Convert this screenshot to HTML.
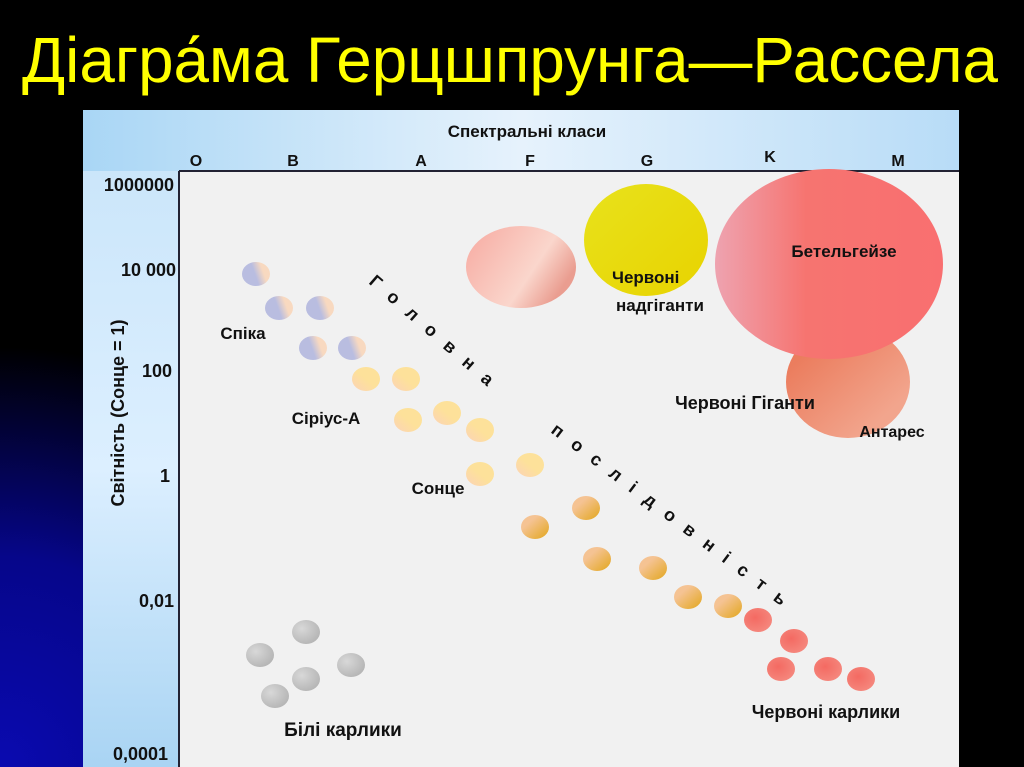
<!DOCTYPE html>
<html><head><meta charset="utf-8"><style>
html,body{margin:0;padding:0;background:#000;}
svg{display:block}
text{font-family:"Liberation Sans","DejaVu Sans",sans-serif;}
</style></head><body>
<svg width="1024" height="767" viewBox="0 0 1024 767" xmlns="http://www.w3.org/2000/svg">
<defs>
<radialGradient id="bg" gradientUnits="userSpaceOnUse" cx="0" cy="767" r="420">
<stop offset="0" stop-color="#0a0ab0"/><stop offset="0.5" stop-color="#06068a"/><stop offset="1" stop-color="#000"/></radialGradient>
<linearGradient id="hdr" x1="0" y1="0" x2="1" y2="0">
<stop offset="0" stop-color="#a9d6f5"/><stop offset="0.5" stop-color="#e6f2fc"/><stop offset="1" stop-color="#b8dcf7"/></linearGradient>
<linearGradient id="lcol" x1="0" y1="0" x2="0" y2="1">
<stop offset="0" stop-color="#cbe6fa"/><stop offset="0.5" stop-color="#dcefff"/><stop offset="1" stop-color="#a9d4f3"/></linearGradient>
<linearGradient id="blue" x1="0" y1="0.6" x2="1" y2="0.3"><stop offset="0.45" stop-color="#b9bde0"/><stop offset="0.75" stop-color="#f8d9c0"/></linearGradient>
<linearGradient id="yel" x1="0" y1="1" x2="1" y2="0"><stop offset="0" stop-color="#fcd3b8"/><stop offset="0.5" stop-color="#fde19a"/></linearGradient>
<linearGradient id="org" x1="0" y1="0" x2="1" y2="1"><stop offset="0.3" stop-color="#f5c393"/><stop offset="1" stop-color="#e2a61c"/></linearGradient>
<radialGradient id="red" cx="0.4" cy="0.4" r="0.7"><stop offset="0" stop-color="#f46a62"/><stop offset="1" stop-color="#f58a80"/></radialGradient>
<radialGradient id="gry" cx="0.35" cy="0.35" r="0.7"><stop offset="0" stop-color="#d8d8d8"/><stop offset="1" stop-color="#b5b5b5"/></radialGradient>
<linearGradient id="pink" x1="0" y1="0" x2="1" y2="0.5"><stop offset="0" stop-color="#f7a9a0"/><stop offset="0.7" stop-color="#fad6cc"/><stop offset="1" stop-color="#ea9d90"/></linearGradient>
<linearGradient id="ylw" x1="0" y1="0" x2="1" y2="1"><stop offset="0" stop-color="#e8e21c"/><stop offset="1" stop-color="#e8d300"/></linearGradient>
<linearGradient id="betel" x1="0" y1="0" x2="1" y2="0"><stop offset="0" stop-color="#eea3b0"/><stop offset="0.4" stop-color="#f67470"/><stop offset="1" stop-color="#f96f70"/></linearGradient>
<linearGradient id="ant" x1="0" y1="0" x2="1" y2="1"><stop offset="0.2" stop-color="#eb7d5e"/><stop offset="0.8" stop-color="#f2a58d"/></linearGradient>
</defs>
<rect width="1024" height="767" fill="#000"/>
<rect width="1024" height="767" fill="url(#bg)"/>
<text x="22" y="82" font-size="64" fill="#ffff00" textLength="976" lengthAdjust="spacingAndGlyphs">Діагра́ма Герцшпрунга—Рассела</text>
<rect x="83" y="110" width="876" height="657" fill="url(#hdr)"/>
<rect x="83" y="171" width="96" height="596" fill="url(#lcol)"/>
<rect x="179" y="171" width="780" height="596" fill="#f1f1f1"/>
<line x1="179" y1="171" x2="959" y2="171" stroke="#223" stroke-width="2"/>
<line x1="179" y1="171" x2="179" y2="767" stroke="#223" stroke-width="2"/>
<g font-weight="bold" fill="#111" font-size="16">
<text x="527" y="137" text-anchor="middle" font-size="17">Спектральні класи</text>
<text x="196" y="166" text-anchor="middle">O</text><text x="293" y="166" text-anchor="middle">B</text>
<text x="421" y="166" text-anchor="middle">A</text><text x="530" y="166" text-anchor="middle">F</text>
<text x="647" y="166" text-anchor="middle">G</text><text x="770" y="162" text-anchor="middle">K</text>
<text x="898" y="166" text-anchor="middle">M</text>
<g text-anchor="end" font-size="18">
<text x="174" y="191">1000000</text><text x="176" y="276">10 000</text><text x="172" y="377">100</text>
<text x="170" y="482">1</text><text x="174" y="607">0,01</text><text x="168" y="760">0,0001</text></g>
<text transform="translate(124,413) rotate(-90)" text-anchor="middle" font-size="18">Світність (Сонце = 1)</text>
</g>
<ellipse cx="521" cy="267" rx="55" ry="41" fill="url(#pink)"/>
<ellipse cx="646" cy="240" rx="62" ry="56" fill="url(#ylw)"/>
<ellipse cx="848" cy="382" rx="62" ry="56" fill="url(#ant)"/>
<ellipse cx="829" cy="264" rx="114" ry="95" fill="url(#betel)"/>
<g>
<g fill="url(#blue)">
<ellipse cx="256" cy="274" rx="14" ry="12"/><ellipse cx="279" cy="308" rx="14" ry="12"/><ellipse cx="320" cy="308" rx="14" ry="12"/><ellipse cx="313" cy="348" rx="14" ry="12"/><ellipse cx="352" cy="348" rx="14" ry="12"/></g>
<g fill="url(#yel)">
<ellipse cx="366" cy="379" rx="14" ry="12"/><ellipse cx="406" cy="379" rx="14" ry="12"/><ellipse cx="408" cy="420" rx="14" ry="12"/><ellipse cx="447" cy="413" rx="14" ry="12"/><ellipse cx="480" cy="430" rx="14" ry="12"/><ellipse cx="480" cy="474" rx="14" ry="12"/><ellipse cx="530" cy="465" rx="14" ry="12"/></g>
<g fill="url(#org)">
<ellipse cx="586" cy="508" rx="14" ry="12"/><ellipse cx="535" cy="527" rx="14" ry="12"/><ellipse cx="597" cy="559" rx="14" ry="12"/><ellipse cx="653" cy="568" rx="14" ry="12"/><ellipse cx="688" cy="597" rx="14" ry="12"/><ellipse cx="728" cy="606" rx="14" ry="12"/></g>
<g fill="url(#red)">
<ellipse cx="758" cy="620" rx="14" ry="12"/><ellipse cx="794" cy="641" rx="14" ry="12"/><ellipse cx="781" cy="669" rx="14" ry="12"/><ellipse cx="828" cy="669" rx="14" ry="12"/><ellipse cx="861" cy="679" rx="14" ry="12"/></g>
<g fill="url(#gry)">
<ellipse cx="306" cy="632" rx="14" ry="12"/><ellipse cx="260" cy="655" rx="14" ry="12"/><ellipse cx="351" cy="665" rx="14" ry="12"/><ellipse cx="306" cy="679" rx="14" ry="12"/><ellipse cx="275" cy="696" rx="14" ry="12"/></g>
</g>
<g font-weight="bold" fill="#111" font-size="17">
<text x="243" y="339" text-anchor="middle">Спіка</text>
<text x="326" y="424" text-anchor="middle">Сіріус-А</text>
<text x="438" y="494" text-anchor="middle">Сонце</text>
<text x="612" y="283">Червоні</text>
<text x="616" y="311">надгіганти</text>
<text x="844" y="257" text-anchor="middle">Бетельгейзе</text>
<text x="745" y="409" text-anchor="middle" font-size="18">Червоні Гіганти</text>
<text x="892" y="437" text-anchor="middle" font-size="16">Антарес</text>
<text x="343" y="736" text-anchor="middle" font-size="19">Білі карлики</text>
<text x="826" y="718" text-anchor="middle" font-size="18">Червоні карлики</text>
</g>
<g font-weight="bold" fill="#111" font-size="18">
<text transform="translate(368,283) rotate(41)" letter-spacing="14">Головна</text>
<text transform="translate(550,432) rotate(37)" letter-spacing="13.5">послідовність</text>
</g>
</svg>
</body></html>
